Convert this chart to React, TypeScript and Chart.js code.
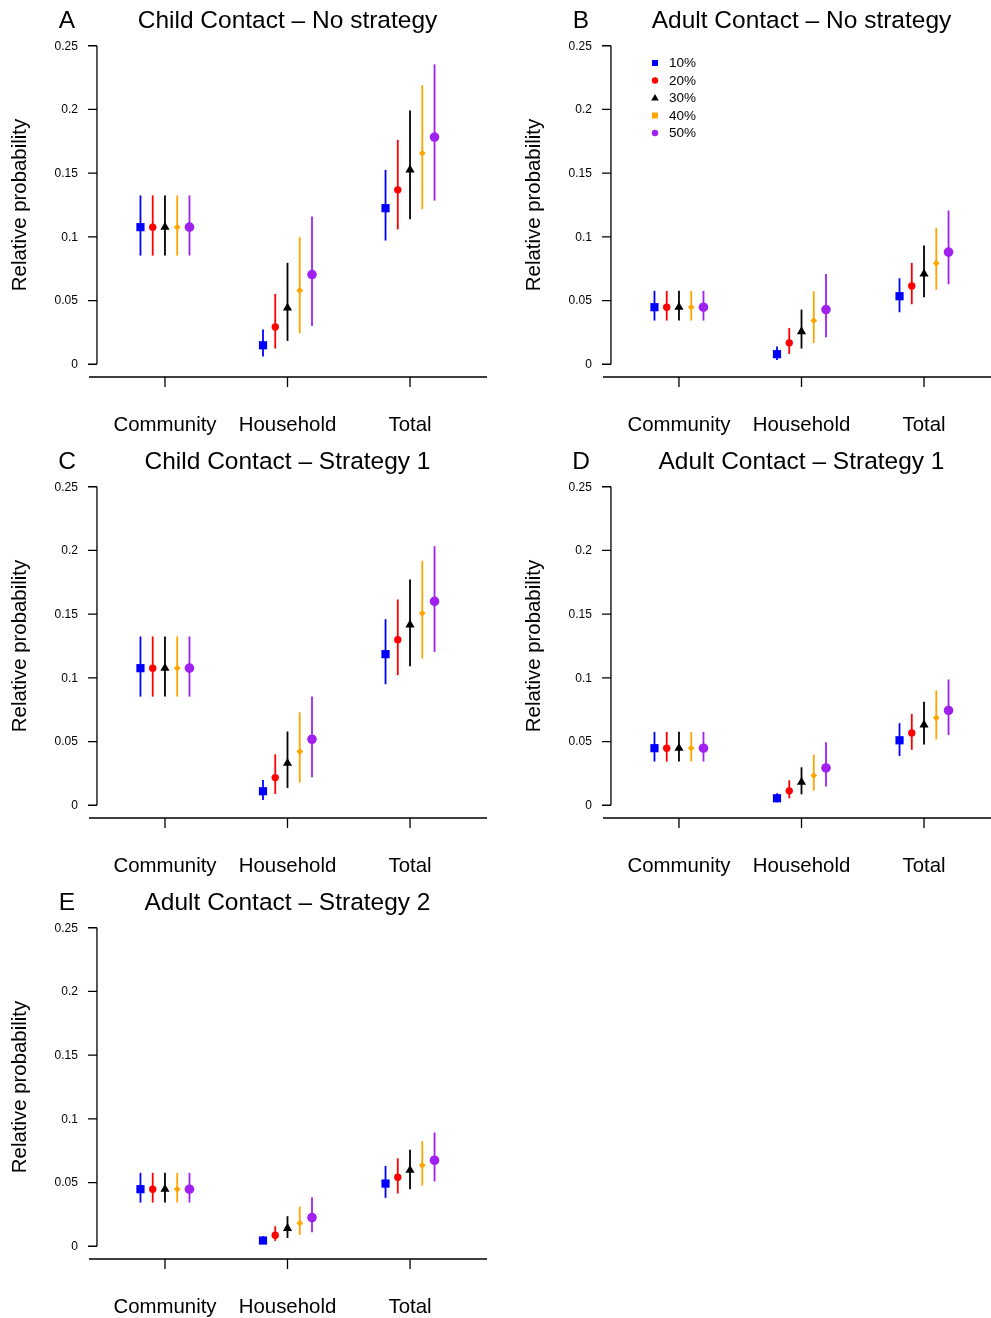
import React, { useEffect, useRef } from "react";
import { Chart, registerables } from "chart.js";
Chart.register(...registerables);

const categories = ["Community", "Household", "Total"];
const seriesLabels = ["10%", "20%", "30%", "40%", "50%"];
const seriesColors = ["#0000FF", "#FF0000", "#000000", "#FFA500", "#A020F0"];
const seriesOffsets = [-0.2, -0.1, 0, 0.1, 0.2];
const yTicks = [0, 0.05, 0.1, 0.15, 0.2, 0.25];
const yTickLabels = ["0", "0.05", "0.1", "0.15", "0.2", "0.25"];

// Panel A: Child Contact – No strategy (rows = series, cols = categories)
const meanA = [
  [0.1076, 0.0149, 0.1225],
  [0.1076, 0.0293, 0.1369],
  [0.1076, 0.0442, 0.1526],
  [0.1076, 0.0579, 0.1657],
  [0.1076, 0.0704, 0.1783],
];
const lowerA = [
  [0.0853, 0.006, 0.0971],
  [0.0853, 0.0123, 0.1058],
  [0.0853, 0.0183, 0.1139],
  [0.0853, 0.0243, 0.1217],
  [0.0853, 0.0301, 0.1285],
];
const upperA = [
  [0.1325, 0.0272, 0.1526],
  [0.1325, 0.0552, 0.1762],
  [0.1325, 0.0796, 0.1992],
  [0.1325, 0.0997, 0.2189],
  [0.1325, 0.116, 0.2354],
];

// Panel B: Adult Contact – No strategy
const meanB = [
  [0.0448, 0.0079, 0.0534],
  [0.0448, 0.0168, 0.0615],
  [0.0448, 0.0257, 0.0709],
  [0.0448, 0.0343, 0.0793],
  [0.0448, 0.0429, 0.088],
];
const lowerB = [
  [0.0343, 0.0034, 0.0408],
  [0.0343, 0.0081, 0.0471],
  [0.0343, 0.0123, 0.0526],
  [0.0343, 0.0165, 0.0584],
  [0.0343, 0.0212, 0.0628],
];
const upperB = [
  [0.0576, 0.0139, 0.0675],
  [0.0576, 0.0285, 0.0796],
  [0.0576, 0.0429, 0.0932],
  [0.0576, 0.0573, 0.1071],
  [0.0576, 0.0709, 0.1207],
];

// Panel C: Child Contact – Strategy 1
const meanC = [
  [0.1076, 0.011, 0.1186],
  [0.1076, 0.0217, 0.1299],
  [0.1076, 0.033, 0.1416],
  [0.1076, 0.0421, 0.1508],
  [0.1076, 0.0518, 0.16],
];
const lowerC = [
  [0.0853, 0.0042, 0.095],
  [0.0853, 0.0089, 0.1021],
  [0.0853, 0.0136, 0.1092],
  [0.0853, 0.0178, 0.1152],
  [0.0853, 0.022, 0.1204],
];
const upperC = [
  [0.1325, 0.0199, 0.1461],
  [0.1325, 0.04, 0.1615],
  [0.1325, 0.0579, 0.1772],
  [0.1325, 0.073, 0.1919],
  [0.1325, 0.0853, 0.2034],
];

// Panel D: Adult Contact – Strategy 1
const meanD = [
  [0.0448, 0.0055, 0.051],
  [0.0448, 0.0113, 0.0568],
  [0.0448, 0.0181, 0.0631],
  [0.0448, 0.0233, 0.0686],
  [0.0448, 0.0293, 0.0744],
];
const lowerD = [
  [0.0343, 0.0024, 0.0387],
  [0.0343, 0.0055, 0.0435],
  [0.0343, 0.0086, 0.0476],
  [0.0343, 0.0115, 0.0516],
  [0.0343, 0.0147, 0.0552],
];
const upperD = [
  [0.0576, 0.0094, 0.0644],
  [0.0576, 0.0196, 0.0717],
  [0.0576, 0.0298, 0.0812],
  [0.0576, 0.0398, 0.0901],
  [0.0576, 0.0495, 0.0987],
];

// Panel E: Adult Contact – Strategy 2
const meanE = [
  [0.0448, 0.0045, 0.0492],
  [0.0448, 0.0086, 0.0542],
  [0.0448, 0.0141, 0.0597],
  [0.0448, 0.0181, 0.0636],
  [0.0448, 0.0225, 0.0675],
];
const lowerE = [
  [0.0343, 0.002, 0.038],
  [0.0343, 0.0042, 0.0414],
  [0.0343, 0.0065, 0.0448],
  [0.0343, 0.0089, 0.0476],
  [0.0343, 0.011, 0.0508],
];
const upperE = [
  [0.0576, 0.0079, 0.0631],
  [0.0576, 0.0157, 0.0691],
  [0.0576, 0.0236, 0.0757],
  [0.0576, 0.0312, 0.0825],
  [0.0576, 0.0385, 0.0893],
];

const FONT = "'Liberation Sans', Arial, Helvetica, sans-serif";
const pointStyles = ["rect", "circle", "triangle", "rectRot", "circle"];
const pointRadii = [5.8, 3.7, 5.3, 3.4, 4.8];

const PANEL_W = 495;
const PANEL_H = 441;

function drawLegendMarker(ctx: CanvasRenderingContext2D, i: number, cx: number, cy: number) {
  ctx.fillStyle = seriesColors[i];
  ctx.beginPath();
  if (i === 0 || i === 3) {
    ctx.rect(cx - 3, cy - 3, 6, 6);
  } else if (i === 1 || i === 4) {
    ctx.arc(cx, cy, 3.2, 0, Math.PI * 2);
  } else {
    ctx.moveTo(cx, cy - 4);
    ctx.lineTo(cx + 3.8, cy + 2.6);
    ctx.lineTo(cx - 3.8, cy + 2.6);
    ctx.closePath();
  }
  ctx.fill();
}

const decorPlugin = {
  id: "decor",
  beforeDatasetsDraw(chart: any) {
    const ctx = chart.ctx;
    const xs = chart.scales.x;
    const ys = chart.scales.y;
    chart.data.datasets.forEach((ds: any) => {
      ctx.save();
      ctx.strokeStyle = ds.borderColor;
      ctx.lineWidth = 1.8;
      ds.data.forEach((p: any) => {
        const px = xs.getPixelForValue(p.x);
        ctx.beginPath();
        ctx.moveTo(px, ys.getPixelForValue(p.lo));
        ctx.lineTo(px, ys.getPixelForValue(p.hi));
        ctx.stroke();
      });
      ctx.restore();
    });
  },
  afterDraw(chart: any) {
    const o = chart.options.plugins.decor;
    const ctx = chart.ctx;
    const xs = chart.scales.x;
    const ys = chart.scales.y;
    const area = chart.chartArea;
    ctx.save();
    ctx.strokeStyle = "#000";
    ctx.fillStyle = "#000";
    ctx.lineWidth = 1.3;
    // y axis
    const ax = xs.getPixelForValue(0.445);
    const y0 = ys.getPixelForValue(yTicks[0]);
    const y1 = ys.getPixelForValue(yTicks[yTicks.length - 1]);
    ctx.beginPath();
    ctx.moveTo(ax, y0);
    ctx.lineTo(ax, y1);
    yTicks.forEach((t) => {
      const py = ys.getPixelForValue(t);
      ctx.moveTo(ax, py);
      ctx.lineTo(ax - 9, py);
    });
    ctx.stroke();
    ctx.font = `12px ${FONT}`;
    ctx.textAlign = "right";
    ctx.textBaseline = "middle";
    yTicks.forEach((t, i) => {
      ctx.fillText(yTickLabels[i], ax - 19, ys.getPixelForValue(t) + 0.5);
    });
    // x axis
    const by = area.bottom;
    ctx.beginPath();
    ctx.moveTo(area.left, by);
    ctx.lineTo(area.right + 1, by);
    categories.forEach((_, i) => {
      const px = xs.getPixelForValue(i + 1);
      ctx.moveTo(px, by);
      ctx.lineTo(px, by + 10);
    });
    ctx.stroke();
    ctx.font = `20.4px ${FONT}`;
    ctx.textAlign = "center";
    ctx.textBaseline = "middle";
    categories.forEach((c, i) => {
      ctx.fillText(c, xs.getPixelForValue(i + 1), by + 48.5);
    });
    // y title
    ctx.save();
    ctx.translate(20, (area.top + area.bottom) / 2);
    ctx.rotate(-Math.PI / 2);
    ctx.font = `20.4px ${FONT}`;
    ctx.fillText("Relative probability", 0, 0);
    ctx.restore();
    // title and letter
    ctx.font = `24.5px ${FONT}`;
    ctx.fillText(o.title, (area.left + area.right) / 2, 21.5);
    ctx.fillText(o.letter, 67, 21.5);
    // legend
    if (o.legend) {
      ctx.font = `13.5px ${FONT}`;
      ctx.textAlign = "left";
      seriesLabels.forEach((lab, i) => {
        const ly = 63 + i * 17.5;
        drawLegendMarker(ctx, i, 141, ly);
        ctx.fillStyle = "#000";
        ctx.fillText(lab, 155, ly + 0.5);
      });
    }
    ctx.restore();
  },
};

type PanelProps = {
  letter: string;
  title: string;
  mean: number[][];
  lower: number[][];
  upper: number[][];
  legend?: boolean;
  left: number;
  top: number;
};

function Panel({ letter, title, mean, lower, upper, legend, left, top }: PanelProps) {
  const ref = useRef<HTMLCanvasElement | null>(null);
  useEffect(() => {
    if (!ref.current) return;
    const datasets = seriesLabels.map((lab, s) => ({
      label: lab,
      data: categories.map((_, c) => ({
        x: c + 1 + seriesOffsets[s],
        y: mean[s][c],
        lo: lower[s][c],
        hi: upper[s][c],
      })),
      showLine: false,
      borderColor: seriesColors[s],
      backgroundColor: seriesColors[s],
      pointBackgroundColor: seriesColors[s],
      pointBorderColor: seriesColors[s],
      pointBorderWidth: 0,
      pointStyle: pointStyles[s],
      pointRadius: pointRadii[s],
    }));
    const chart = new Chart(ref.current, {
      type: "scatter",
      data: { datasets },
      plugins: [decorPlugin],
      options: {
        responsive: false,
        animation: false,
        events: [],
        devicePixelRatio: 1,
        layout: { padding: { left: 89, right: PANEL_W - 486, top: 33, bottom: PANEL_H - 377 } },
        scales: {
          x: { type: "linear", min: 0.38, max: 3.62, display: false },
          y: { type: "linear", min: -0.01, max: 0.26, display: false },
        },
        plugins: {
          legend: { display: false },
          tooltip: { enabled: false },
          title: { display: false },
          decor: { letter, title, legend: !!legend },
        } as any,
      },
    });
    return () => chart.destroy();
  }, []);
  return (
    <div style={{ position: "absolute", left, top, width: PANEL_W, height: PANEL_H }}>
      <canvas ref={ref} width={PANEL_W} height={PANEL_H} style={{ width: PANEL_W, height: PANEL_H, display: "block" }} />
    </div>
  );
}

export default function App() {
  return (
    <div
      style={{
        position: "absolute",
        left: 0,
        top: 0,
        width: 991,
        height: 1318,
        overflow: "hidden",
        background: "#fff",
      }}
    >
      <Panel letter="A" title="Child Contact – No strategy" mean={meanA} lower={lowerA} upper={upperA} left={0} top={0} />
      <Panel letter="B" title="Adult Contact – No strategy" mean={meanB} lower={lowerB} upper={upperB} legend left={514} top={0} />
      <Panel letter="C" title="Child Contact – Strategy 1" mean={meanC} lower={lowerC} upper={upperC} left={0} top={441} />
      <Panel letter="D" title="Adult Contact – Strategy 1" mean={meanD} lower={lowerD} upper={upperD} left={514} top={441} />
      <Panel letter="E" title="Adult Contact – Strategy 2" mean={meanE} lower={lowerE} upper={upperE} left={0} top={882} />
    </div>
  );
}
